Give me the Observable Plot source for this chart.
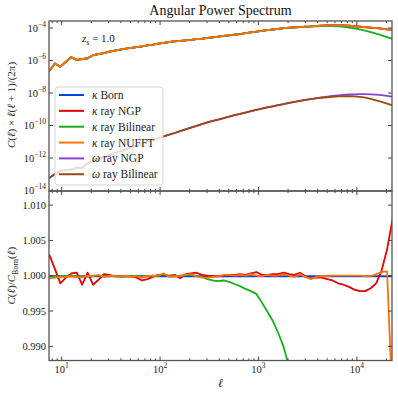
<!DOCTYPE html>
<html><head><meta charset="utf-8">
<script src="https://cdn.jsdelivr.net/npm/d3@7"></script>
<script src="https://cdn.jsdelivr.net/npm/@observablehq/plot@0.6"></script>
<style>
html,body{margin:0;padding:0;background:#fff;}
#chart{position:relative;width:398px;height:394px;overflow:hidden;}
#chart svg{position:absolute;left:0;overflow:visible;}
</style></head><body><div id="chart"></div>
<script>
// multipole bins
const ell = [7.43, 8.44, 9.59, 10.89, 12.37, 14.05, 15.96, 18.13, 20.60, 23.39, 26.58, 30.18, 34.29, 38.95, 44.24, 50.25,
  57.08, 64.84, 73.65, 83.67, 95.02, 107.9, 122.6, 139.3, 158.2, 179.7, 204.1, 231.9, 263.4, 299.2, 339.8, 386.0,
  438.5, 498.1, 565.8, 642.7, 729.9, 829.2, 941.7, 1070, 1215, 1380, 1568, 1781, 2023, 2298, 2610, 2965,
  3368, 3825, 4345, 4935, 5606, 6368, 7234, 8216, 9333, 10600, 12040, 13680, 15540, 17650, 20050, 22780];

// kappa Born: C(l) l(l+1)/(2pi)
const kappaBorn = [2.57e-7, 7.08e-7, 4.47e-7, 8.91e-7, 1.70e-6, 1.17e-6, 1.32e-6, 1.48e-6, 2.29e-6, 2.69e-6, 3.02e-6, 3.80e-6, 4.37e-6, 5.01e-6, 5.75e-6, 6.46e-6,
  7.24e-6, 7.94e-6, 9.12e-6, 1.02e-5, 1.17e-5, 1.32e-5, 1.48e-5, 1.62e-5, 1.74e-5, 1.86e-5, 2.00e-5, 2.19e-5, 2.34e-5, 2.63e-5, 2.88e-5, 3.16e-5,
  3.47e-5, 3.80e-5, 4.17e-5, 4.57e-5, 5.13e-5, 5.75e-5, 6.46e-5, 7.08e-5, 7.94e-5, 8.71e-5, 9.55e-5, 1.05e-4, 1.12e-4, 1.17e-4, 1.23e-4, 1.29e-4,
  1.35e-4, 1.45e-4, 1.51e-4, 1.55e-4, 1.58e-4, 1.58e-4, 1.55e-4, 1.48e-4, 1.38e-4, 1.29e-4, 1.20e-4, 1.12e-4, 1.05e-4, 9.77e-5, 8.91e-5, 8.32e-5];

// ratios C(l)/C_Born(l)
const ratioBorn = [1,1,1,1,1,1,1,1,1,1,1,1,1,1,1,1,1,1,1,1,1,1,1,1,1,1,1,1,1,1,1,1,
  1,1,1,1,1,1,1,1,1,1,1,1,1,1,1,1,1,1,1,1,1,1,1,1,1,1,1,1,1,1,1,1];
const ratioNGP = [1.0030, 1.0010, 0.9990, 0.9998, 1.0004, 1.0005, 0.9988, 1.0005, 0.9988, 0.9995, 1.0003, 1.0002, 1.0000, 1.0000, 1.0000, 1.0000,
  0.9998, 0.9994, 0.9996, 0.9999, 1.0002, 1.0002, 1.0001, 1.0002, 0.9997, 1.0003, 1.0004, 1.0005, 1.0002, 1.0001, 1.0000, 1.0000,
  1.0001, 1.0002, 1.0002, 1.0003, 1.0002, 1.0004, 1.0006, 1.0002, 1.0002, 1.0003, 1.0003, 1.0005, 1.0003, 1.0002, 1.0005, 1.0000,
  0.9997, 0.9998, 0.9998, 0.9996, 0.9994, 0.9990, 0.9988, 0.9985, 0.9981, 0.9979, 0.9979, 0.9983, 0.9990, 1.0008, 1.0038, 1.0080];
const ratioBilinear = [1.0000, 0.9999, 1.0000, 1.0000, 1.0001, 1.0000, 0.9999, 1.0000, 1.0001, 1.0001, 1.0000, 1.0000, 1.0001, 0.9999, 1.0000, 1.0000,
  1.0001, 0.9999, 1.0000, 1.0001, 1.0001, 1.0003, 1.0000, 1.0000, 1.0001, 1.0002, 1.0002, 1.0000, 0.9999, 0.9996, 0.9994, 0.9993,
  0.9994, 0.9992, 0.9989, 0.9986, 0.9982, 0.9979, 0.9975, 0.9963, 0.9950, 0.9937, 0.9920, 0.9900, 0.9872, 0.9840, 0.980, 0.975,
  0.965, 0.950, 0.930, 0.910, 0.890, 0.860, 0.820, 0.780, 0.730, 0.680, 0.610, 0.530, 0.460, 0.390, 0.330, 0.275];
const ratioNUFFT = [0.9997, 0.9998, 0.9999, 0.9999, 1.0000, 0.9999, 0.9999, 1.0001, 1.0000, 1.0002, 0.9999, 1.0001, 1.0000, 1.0000, 1.0001, 0.9999,
  1.0000, 0.9998, 1.0001, 1.0000, 1.0001, 1.0004, 0.9999, 1.0000, 1.0000, 1.0002, 1.0003, 1.0000, 0.9998, 0.9998, 0.9999, 1.0000,
  1.0002, 1.0002, 1.0001, 1.0002, 1.0001, 1.0003, 1.0001, 1.0000, 1.0002, 1.0001, 1.0001, 1.0003, 1.0001, 0.9999, 1.0003, 0.9999,
  0.9996, 0.9999, 1.0000, 1.0000, 1.0001, 1.0001, 1.0001, 1.0001, 1.0001, 1.0001, 1.0000, 1.0000, 1.0003, 1.0006, 1.0007, 0.9820];

// omega (rotation) spectra
const omegaNGP = [6.61e-14, 1.12e-13, 1.74e-13, 1.91e-13, 2.09e-13, 2.75e-13, 2.63e-13, 5.25e-13, 7.08e-13, 9.55e-13, 1.23e-12, 1.62e-12, 2.14e-12, 2.75e-12, 3.63e-12, 4.79e-12,
  6.31e-12, 8.32e-12, 1.07e-11, 1.38e-11, 1.78e-11, 2.29e-11, 2.95e-11, 3.72e-11, 4.79e-11, 6.17e-11, 7.94e-11, 1.02e-10, 1.29e-10, 1.66e-10, 2.04e-10, 2.51e-10,
  3.09e-10, 3.80e-10, 4.68e-10, 5.62e-10, 6.76e-10, 8.13e-10, 9.77e-10, 1.17e-9, 1.38e-9, 1.62e-9, 1.91e-9, 2.24e-9, 2.63e-9, 3.09e-9, 3.55e-9, 4.07e-9,
  4.57e-9, 5.13e-9, 5.75e-9, 6.46e-9, 7.24e-9, 7.76e-9, 8.32e-9, 8.71e-9, 8.91e-9, 9.12e-9, 9.12e-9, 8.91e-9, 8.51e-9, 7.94e-9, 7.24e-9, 6.31e-9];
const omegaBilinear = [6.61e-14, 1.12e-13, 1.74e-13, 1.91e-13, 2.09e-13, 2.75e-13, 2.63e-13, 5.25e-13, 7.08e-13, 9.55e-13, 1.23e-12, 1.62e-12, 2.14e-12, 2.75e-12, 3.63e-12, 4.79e-12,
  6.31e-12, 8.32e-12, 1.07e-11, 1.38e-11, 1.78e-11, 2.29e-11, 2.95e-11, 3.72e-11, 4.79e-11, 6.17e-11, 7.94e-11, 1.02e-10, 1.29e-10, 1.66e-10, 2.04e-10, 2.51e-10,
  3.09e-10, 3.80e-10, 4.68e-10, 5.62e-10, 6.76e-10, 8.13e-10, 9.77e-10, 1.17e-9, 1.38e-9, 1.62e-9, 1.91e-9, 2.24e-9, 2.63e-9, 3.09e-9, 3.55e-9, 4.07e-9,
  4.57e-9, 5.01e-9, 5.50e-9, 5.89e-9, 6.31e-9, 6.61e-9, 6.76e-9, 6.76e-9, 6.61e-9, 6.17e-9, 5.50e-9, 4.68e-9, 3.80e-9, 3.02e-9, 2.40e-9, 1.86e-9];

const seriesNames = ["κ Born", "κ ray NGP", "κ ray Bilinear", "κ ray NUFFT", "ω ray NGP", "ω ray Bilinear"];
const seriesColors = ["#0343df", "#e50000", "#15b01a", "#f97306", "#8b3fe0", "#9a4a12"];
const topYTicks = [1e-14, 1e-12, 1e-10, 1e-8, 1e-6, 1e-4];
const topYTickLabels = ["−14", "−12", "−10", "−8", "−6", "−4"];
const botYTicks = [0.990, 0.995, 1.000, 1.005, 1.010];
const botYTickLabels = ["0.990", "0.995", "1.000", "1.005", "1.010"];
const xMajorTicks = [10, 100, 1000, 10000];
const xMajorLabels = ["1", "2", "3", "4"];
const xMinorFactors = [2, 3, 4, 5, 6, 7, 8, 9];

const FONT = "'Liberation Serif', 'DejaVu Serif', serif";

// tables built from the arrays
const ratios = [ratioBorn, ratioNGP, ratioBilinear, ratioNUFFT];
const topRows = [];
seriesNames.forEach((name, k) => {
  ell.forEach((l, i) => {
    const v = k < 4 ? kappaBorn[i] * ratios[k][i] : (k === 4 ? omegaNGP[i] : omegaBilinear[i]);
    topRows.push({series: name, ell: l, value: v});
  });
});
const botRows = [];
seriesNames.slice(0, 4).forEach((name, k) => {
  ell.forEach((l, i) => botRows.push({series: name, ell: l, value: ratios[k][i]}));
});

const xDomain = [7.43, 22780];

const topPlot = Plot.plot({
  width: 398, height: 191, marginTop: 21, marginBottom: 0, marginLeft: 49, marginRight: 6,
  style: {background: "transparent", overflow: "visible", fontFamily: FONT},
  x: {type: "log", domain: xDomain, axis: null},
  y: {type: "log", domain: [9.33e-15, 2.70e-4], axis: null},
  marks: seriesNames.map((n, k) => Plot.line(topRows.filter(d => d.series === n),
    {x: "ell", y: "value", stroke: seriesColors[k], strokeWidth: 1.8, clip: true}))
});

const botPlot = Plot.plot({
  width: 398, height: 203, marginTop: 0, marginBottom: 33.5, marginLeft: 49, marginRight: 6,
  style: {background: "transparent", overflow: "visible", fontFamily: FONT},
  x: {type: "log", domain: xDomain, axis: null},
  y: {type: "linear", domain: [0.988, 1.012], axis: null},
  marks: seriesNames.slice(0, 4).map((n, k) => Plot.line(botRows.filter(d => d.series === n),
    {x: "ell", y: "value", stroke: seriesColors[k], strokeWidth: 1.8, clip: true}))
});

const chart = document.getElementById("chart");
topPlot.style.top = "0px";
botPlot.style.top = "191px";
chart.appendChild(topPlot);
chart.appendChild(botPlot);

function txt(sel, x, y, anchor, size) {
  return sel.append("text").attr("x", x).attr("y", y).attr("text-anchor", anchor)
    .attr("font-family", FONT).attr("font-size", size).attr("fill", "#222");
}

function frame(plot, yTicks) {
  const sx = plot.scale("x"), sy = plot.scale("y");
  const L = sx.apply(sx.domain[0]), R = sx.apply(sx.domain[1]);
  const B = sy.apply(sy.domain[0]), T = sy.apply(sy.domain[1]);
  const svg = d3.select(plot);
  const g = svg.append("g").attr("stroke", "#333").attr("stroke-width", 0.9).attr("fill", "none");
  const tickAt = (v, len) => {
    if (v < sx.domain[0] || v > sx.domain[1]) return;
    const px = sx.apply(v);
    g.append("line").attr("x1", px).attr("x2", px).attr("y1", B).attr("y2", B - len);
    g.append("line").attr("x1", px).attr("x2", px).attr("y1", T).attr("y2", T + len);
  };
  xMinorFactors.forEach(f => tickAt(f, 2.2));
  xMajorTicks.forEach(m => {
    tickAt(m, 4);
    xMinorFactors.forEach(f => tickAt(m * f, 2.2));
  });
  yTicks.forEach(v => {
    const py = sy.apply(v);
    g.append("line").attr("x1", L).attr("x2", L + 4).attr("y1", py).attr("y2", py);
    g.append("line").attr("x1", R).attr("x2", R - 4).attr("y1", py).attr("y2", py);
  });
  svg.append("rect").attr("x", L).attr("y", T).attr("width", R - L).attr("height", B - T)
    .attr("fill", "none").attr("stroke", "#555").attr("stroke-width", 1.3);
  return {svg, sx, sy, L, R, T, B};
}

// ---- top panel decorations
{
  const {svg, sy, L, R} = frame(topPlot, topYTicks);
  topYTicks.forEach((v, i) => {
    const t = txt(svg, L - 3, sy.apply(v) + 3.5, "end", 10.5);
    t.append("tspan").text("10");
    t.append("tspan").attr("dy", -5).attr("font-size", 7.5).text(topYTickLabels[i]);
  });
  txt(svg, (L + R) / 2, 15, "middle", 14).attr("fill", "#111").text("Angular Power Spectrum");
  // z_s annotation
  const z = txt(svg, 82, 42, "start", 11);
  z.append("tspan").attr("font-style", "italic").text("z");
  z.append("tspan").attr("font-style", "italic").attr("font-size", 8).attr("dy", 2.5).text("s");
  z.append("tspan").attr("dy", -2.5).text(" = 1.0");
  // y label
  const yl = txt(svg, 0, 0, "middle", 11).attr("x", null).attr("y", null)
    .attr("transform", "translate(15,105) rotate(-90)");
  yl.append("tspan").attr("font-style", "italic").text("C");
  yl.append("tspan").text("(");
  yl.append("tspan").attr("font-style", "italic").text("ℓ");
  yl.append("tspan").text(") × ");
  yl.append("tspan").attr("font-style", "italic").text("ℓ");
  yl.append("tspan").text("(");
  yl.append("tspan").attr("font-style", "italic").text("ℓ");
  yl.append("tspan").text(" + 1)/(2π)");
  // legend
  const lg = svg.append("g");
  lg.append("rect").attr("x", 55).attr("y", 87).attr("width", 108).attr("height", 98).attr("rx", 3)
    .attr("fill", "white").attr("fill-opacity", 0.8).attr("stroke", "#d0d0d0").attr("stroke-width", 0.9);
  seriesNames.forEach((n, k) => {
    const y = 95 + 15.85 * k;
    lg.append("line").attr("x1", 59).attr("x2", 84).attr("y1", y).attr("y2", y)
      .attr("stroke", seriesColors[k]).attr("stroke-width", 2);
    const t = txt(lg, 92, y + 4, "start", 11.5);
    t.append("tspan").attr("font-style", "italic").text(n.slice(0, 1));
    t.append("tspan").text(n.slice(1));
  });
}

// ---- bottom panel decorations
{
  const {svg, sx, sy, L, R, B} = frame(botPlot, botYTicks);
  botYTicks.forEach((v, i) => {
    txt(svg, L - 3, sy.apply(v) + 3.5, "end", 10.5).text(botYTickLabels[i]);
  });
  xMajorTicks.forEach((v, i) => {
    const t = txt(svg, sx.apply(v), B + 12.5, "middle", 10.5);
    t.append("tspan").text("10");
    t.append("tspan").attr("dy", -5).attr("font-size", 7.5).text(xMajorLabels[i]);
  });
  txt(svg, (L + R) / 2, B + 26, "middle", 12).attr("font-style", "italic").text("ℓ");
  const yl = txt(svg, 0, 0, "middle", 11).attr("x", null).attr("y", null)
    .attr("transform", `translate(15,${sy.apply(1.0)}) rotate(-90)`);
  yl.append("tspan").attr("font-style", "italic").text("C");
  yl.append("tspan").text("(");
  yl.append("tspan").attr("font-style", "italic").text("ℓ");
  yl.append("tspan").text(")/");
  yl.append("tspan").attr("font-style", "italic").text("C");
  yl.append("tspan").attr("font-size", 8).attr("dy", 2.5).text("Born");
  yl.append("tspan").attr("dy", -2.5).text("(");
  yl.append("tspan").attr("font-style", "italic").text("ℓ");
  yl.append("tspan").text(")");
}
</script></body></html>
